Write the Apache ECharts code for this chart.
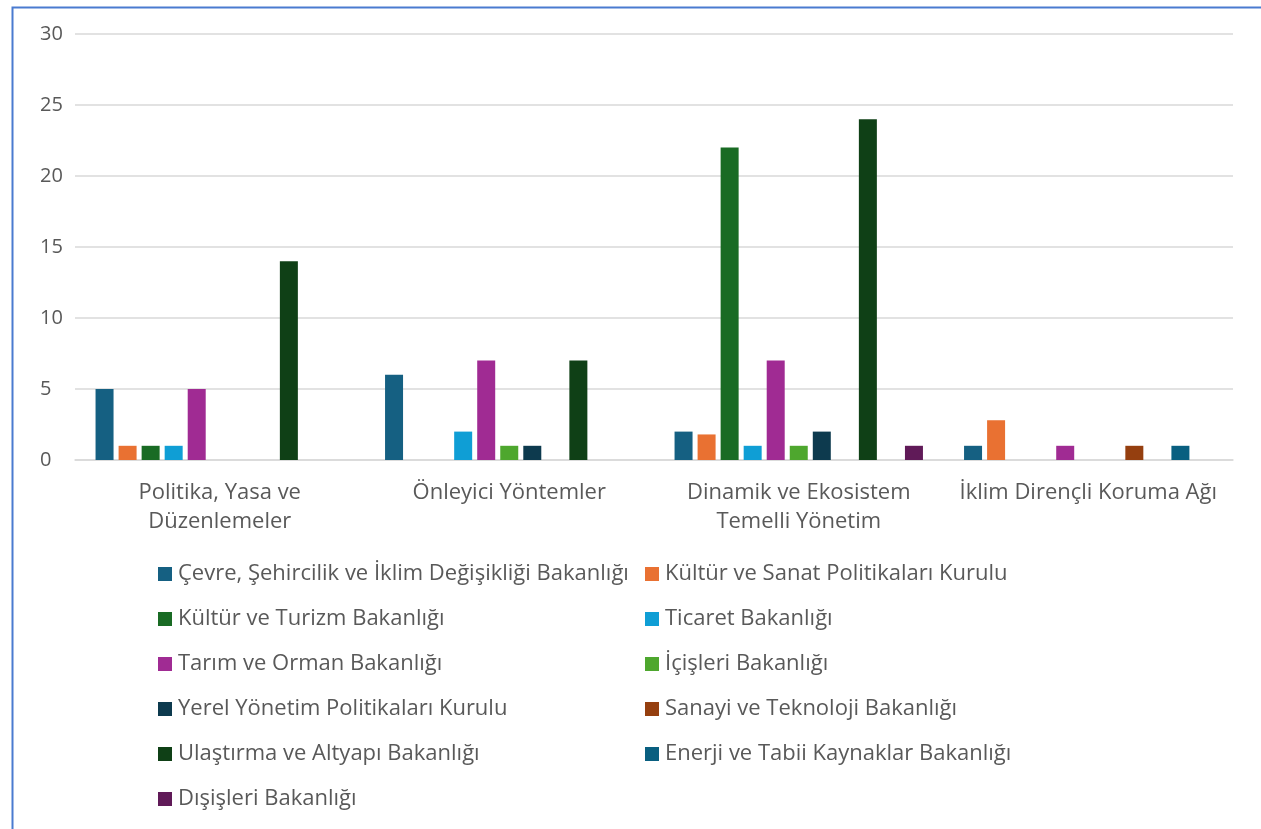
<!DOCTYPE html>
<html>
<head>
<meta charset="utf-8">
<script src="https://cdn.jsdelivr.net/npm/echarts@6/dist/echarts.min.js"></script>
<style>
html,body{margin:0;padding:0;background:#fff;}
#c{width:1261px;height:829px;}
</style>
</head>
<body>
<div id="c"></div>
<script>
const categories = ['Politika, Yasa ve\nDüzenlemeler', 'Önleyici Yöntemler', 'Dinamik ve Ekosistem\nTemelli Yönetim', 'İklim Dirençli Koruma Ağı'];
const seriesNames = [
  'Çevre, Şehircilik ve İklim Değişikliği Bakanlığı',
  'Kültür ve Sanat Politikaları Kurulu',
  'Kültür ve Turizm Bakanlığı',
  'Ticaret Bakanlığı',
  'Tarım ve Orman Bakanlığı',
  'İçişleri Bakanlığı',
  'Yerel Yönetim Politikaları Kurulu',
  'Sanayi ve Teknoloji Bakanlığı',
  'Ulaştırma ve Altyapı Bakanlığı',
  'Enerji ve Tabii Kaynaklar Bakanlığı',
  'Dışişleri Bakanlığı'
];
const cevre      = [5, 6, 2, 1];
const kulturSanat= [1, 0, 1.8, 2.8];
const kulturTurizm=[1, 0, 22, 0];
const ticaret    = [1, 2, 1, 0];
const tarim      = [5, 7, 7, 1];
const icisleri   = [0, 1, 1, 0];
const yerel      = [0, 1, 2, 0];
const sanayi     = [0, 0, 0, 1];
const ulastirma  = [14, 7, 24, 0];
const enerji     = [0, 0, 0, 1];
const disisleri  = [0, 0, 1, 0];
const seriesValues = [cevre, kulturSanat, kulturTurizm, ticaret, tarim, icisleri, yerel, sanayi, ulastirma, enerji, disisleri];
const colors = ['#156082','#E97132','#196B24','#0F9ED5','#A02B93','#4EA72E','#0D3A4E','#953F0F','#0F4016','#095F80','#601A58'];
const yTicks = [0, 5, 10, 15, 20, 25, 30];

const FONT = 'Open Sans';
const chart = echarts.init(document.getElementById('c'), null, {renderer:'canvas'});

const legendLeft = seriesNames.filter((_, i) => i % 2 === 0);
const legendRight = seriesNames.filter((_, i) => i % 2 === 1);
const legendCommon = {
  orient: 'vertical',
  itemWidth: 14, itemHeight: 14, itemGap: 19,
  icon: 'rect',
  textStyle: {fontFamily: FONT, fontSize: 22, color: '#595959', lineHeight: 26, padding:[0,0,0,1]},
  selectedMode: false,
  padding: 0
};

chart.setOption({
  animation: false,
  color: colors,
  graphic: [{
    type: 'rect', left: 10, top: 5, silent: true,
    shape: {x: 0, y: 0, width: 1400, height: 900},
    style: {fill: 'none', stroke: '#4A7BD0', lineWidth: 2}
  }],
  grid: {left: 75, right: 28, top: 34, height: 426, containLabel: false},
  legend: [
    Object.assign({}, legendCommon, {data: legendLeft, left: 158, top: 561}),
    Object.assign({}, legendCommon, {data: legendRight, left: 645, top: 561})
  ],
  xAxis: {
    type: 'category',
    data: categories,
    axisTick: {show: false},
    axisLine: {lineStyle: {color: '#D9D9D9', width: 1.5}},
    axisLabel: {fontFamily: FONT, fontSize: 22, color: '#595959', margin: 18, lineHeight: 29, interval: 0}
  },
  yAxis: {
    type: 'value', min: 0, max: 30, interval: 5,
    axisLine: {show: false}, axisTick: {show: false},
    splitLine: {lineStyle: {color: '#D9D9D9', width: 1.5}},
    axisLabel: {fontFamily: FONT, fontSize: 20, color: '#595959', align: 'left', margin: 35,
      formatter: v => yTicks.includes(v) ? String(v) : ''}
  },
  series: seriesNames.map((name, i) => ({
    name, type: 'bar',
    data: seriesValues[i],
    barWidth: 18, barGap: '28%',
    itemStyle: {color: colors[i]}
  }))
});
</script>
</body>
</html>
